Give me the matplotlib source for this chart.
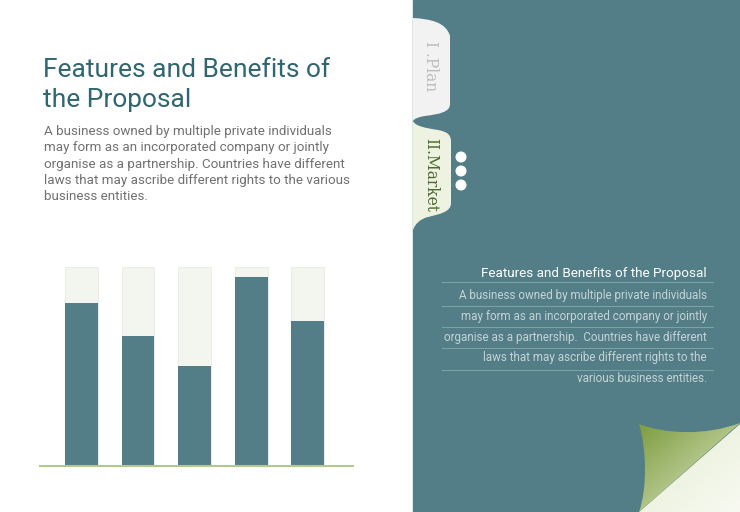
import numpy as np
import matplotlib.pyplot as plt
from matplotlib.path import Path
from matplotlib.patches import PathPatch, Rectangle, Circle
from matplotlib.colors import LinearSegmentedColormap

# chart data
bar_values = [82, 65, 50, 95, 73]
bar_max = 100

title = "Features and Benefits of\nthe Proposal"
body = ("A business owned by multiple private individuals\n"
        "may form as an incorporated company or jointly\n"
        "organise as a partnership. Countries have different\n"
        "laws that may ascribe different rights to the various\n"
        "business entities.")
side_title = "Features and Benefits of the Proposal"
side_lines = ["A business owned by multiple private individuals",
              "may form as an incorporated company or jointly",
              "organise as a partnership.  Countries have different",
              "laws that may ascribe different rights to the",
              "various business entities."]
tab_labels = ["I .Plan", "II.Market"]

teal = "#537e87"
dark_teal = "#2f6671"
pale = "#f3f6ee"

fig = plt.figure(figsize=(7.4, 5.12), dpi=100)
bg = fig.add_axes([0, 0, 1, 1])
bg.set_xlim(0, 740)
bg.set_ylim(512, 0)
bg.axis("off")

# right panel
bg.add_patch(Rectangle((413, 0), 327, 512, color=teal, zorder=0))

# tabs
C = Path.CURVE4
tab1 = Path([(413, 18), (430, 19), (446, 22), (450, 36), (450, 104),
             (450, 112), (440, 114), (425, 116), (418, 117), (414, 119), (413, 121), (413, 18)],
            [Path.MOVETO, C, C, C, Path.LINETO, C, C, C, C, C, C, Path.CLOSEPOLY])
tab2 = Path([(413, 121), (415, 126), (425, 128), (438, 130), (448, 132), (451, 135), (451, 142),
             (451, 203), (451, 212), (440, 214), (428, 217), (420, 219), (415, 224), (413, 230), (413, 121)],
            [Path.MOVETO, C, C, C, C, C, C, Path.LINETO, C, C, C, C, C, C, Path.CLOSEPOLY])
bg.add_patch(PathPatch(tab1, facecolor="#f2f2f2", edgecolor="none", zorder=1))
bg.add_patch(PathPatch(tab2, facecolor="#eef2e1", edgecolor="none", zorder=1))
bg.text(431, 66, tab_labels[0], rotation=-90, ha="center", va="center",
        family="DejaVu Serif", fontsize=11.2, color="#bdbdbd")
bg.text(431, 175, tab_labels[1], rotation=-90, ha="center", va="center",
        family="DejaVu Serif", fontsize=11.2, color="#4d6b2e")
for yy in [157, 171, 185]:
    bg.add_patch(Circle((461, yy), 4.8, color="white", zorder=2))

# left texts
bg.text(43, 58, title, ha="left", va="top", fontsize=19, color=dark_teal,
        family="Roboto", linespacing=1.3)
bg.text(44, 125, body, ha="left", va="top", fontsize=9.6, color="#707070",
        family="Roboto", linespacing=1.33)

# right texts
bg.text(707, 273, side_title, ha="right", va="center", fontsize=9.7,
        color="white", family="Roboto")
for yy in [282, 305.5, 327, 348, 369.5]:
    bg.plot([442, 713], [yy, yy], color="#7ea0a7", lw=0.8)
for i, s in enumerate(side_lines):
    bg.text(707, 296 + i * 20.6, s, ha="right", va="center", fontsize=8.4,
            color="#c5d3d5", family="Roboto")

# page curl
tri = Path([(639, 512), (740, 424), (740, 512), (639, 512)],
           [Path.MOVETO, Path.LINETO, Path.LINETO, Path.CLOSEPOLY])
flap = Path([(639, 424), (665, 434), (705, 436), (740, 423), (639, 512),
             (647, 490), (647, 450), (639, 424), (639, 424)],
            [Path.MOVETO, C, C, C, Path.LINETO, C, C, C, Path.CLOSEPOLY])
gx, gy = np.meshgrid(np.linspace(0, 1, 100), np.linspace(0, 1, 90))
p1 = PathPatch(tri, facecolor="none", edgecolor="none")
bg.add_patch(p1)
im1 = bg.imshow((gx + gy) / 2, extent=(639, 740, 512, 423),
                cmap=LinearSegmentedColormap.from_list("c1", ["#e4ecd2", "#f8faf1"]),
                aspect="auto", zorder=3)
im1.set_clip_path(p1)
p2 = PathPatch(flap, facecolor="none", edgecolor="none")
bg.add_patch(p2)
im2 = bg.imshow((gx + gy) / 2, extent=(639, 740, 512, 423),
                cmap=LinearSegmentedColormap.from_list("c2", ["#7d9c3f", "#e3ecce"]),
                aspect="auto", zorder=3)
im2.set_clip_path(p2)
bg.set_xlim(0, 740)
bg.set_ylim(512, 0)

# bar chart
ax = fig.add_axes([40 / 740, (512 - 466) / 512, 313 / 740, 199.3 / 512])
x = np.arange(len(bar_values))
ax.bar(x, [bar_max] * len(bar_values), width=0.58, color=pale, edgecolor="#e8ebe2", linewidth=0.6)
ax.bar(x, bar_values, width=0.58, color=teal)
ax.axhline(0, color="#b3c98a", lw=1.5, clip_on=False, zorder=5)
ax.set_xlim(-0.73, 4.8)
ax.set_ylim(0, bar_max)
ax.axis("off")

fig.savefig("out.png", dpi=100)
